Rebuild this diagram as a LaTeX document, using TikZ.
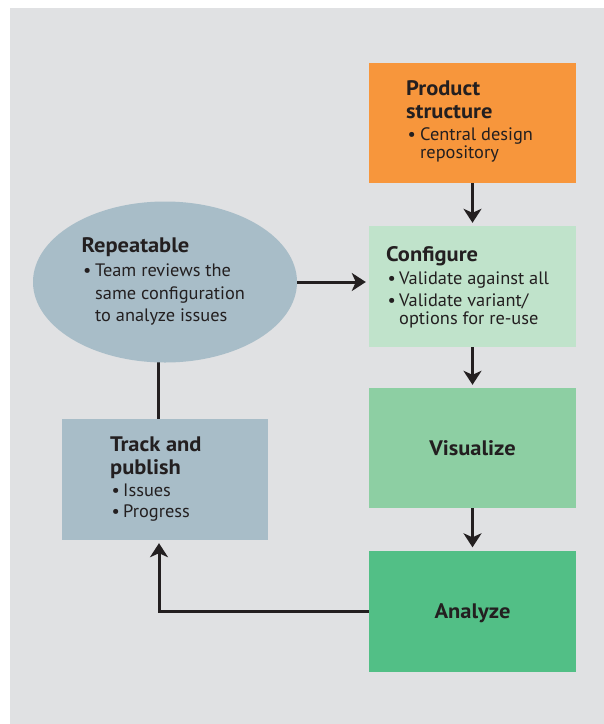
\documentclass[tikz,border=0pt]{standalone}
\usepackage{fontspec}
\setmainfont{PT Sans}[FakeStretch=1.02, BoldFeatures={FakeStretch=1.07}]
\usetikzlibrary{arrows.meta,shapes.geometric}
\definecolor{bggray}{HTML}{E0E1E3}
\definecolor{orangebox}{HTML}{F7963C}
\definecolor{confgreen}{HTML}{C0E3CB}
\definecolor{visgreen}{HTML}{8DCFA3}
\definecolor{anagreen}{HTML}{52BF86}
\definecolor{bluegray}{HTML}{A8BDC8}
\definecolor{ink}{HTML}{231F20}
\newcommand{\bodyline}[4]{\node[bodytxt] (#1) at (#2,#3) {#4};}
\newcommand{\headline}[4]{\node[headtxt] (#1) at (#2,#3) {#4};}
\begin{document}
\begin{tikzpicture}[x=1pt,y=-1pt,
  boxshape/.style={rectangle, draw=none, inner sep=0pt, minimum width=207pt, minimum height=120pt},
  bodytxt/.style={anchor=base west, inner sep=0pt, text=ink, font=\fontsize{18}{20}\selectfont},
  headtxt/.style={anchor=base west, inner sep=0pt, text=ink, font=\fontsize{21}{23}\selectfont\bfseries},
  centertxt/.style={anchor=base, inner sep=0pt, text=ink, font=\fontsize{21}{23}\selectfont\bfseries},
  conn/.style={line width=3pt, draw=ink},
  arr/.style={conn, -{Stealth[length=14pt,width=18pt,inset=4pt]}, shorten >=3pt}]
\useasboundingbox (0,0) rectangle (604,724);
\fill[white] (0,0) rectangle (604,724);
\fill[bggray] (10,8) rectangle (604,724);

% shapes
\node[boxshape, fill=orangebox] (prod) at (472.5,123) {};
\node[boxshape, fill=confgreen, minimum height=121pt] (conf) at (472.5,286.5) {};
\node[boxshape, fill=visgreen] (vis) at (472.5,448) {};
\node[boxshape, fill=anagreen, minimum height=121pt] (ana) at (472.5,611) {};
\node[boxshape, fill=bluegray, minimum width=206pt, minimum height=121pt] (trk) at (165,479.5) {};

% connector under ellipse
\draw[conn] ([xshift=-6.5pt]trk.north) -- ([xshift=-6.5pt]trk.north |- 0,300);

\node[ellipse, fill=bluegray, draw=none, inner sep=0pt, minimum width=264pt, minimum height=161pt] (ell) at (165,282) {};

% connectors
\draw[arr] (prod.south) -- (conf.north);
\draw[arr] (conf.south) -- (vis.north);
\draw[arr] (vis.south) -- (ana.north);
\draw[arr] (ell.east) -- (conf.west |- ell.east);
\draw[arr] (ana.west) -| ([xshift=-6pt]trk.south);

% texts: product
\headline{p1}{406}{95.7}{Product}
\headline{p2}{406}{118.3}{structure}
\bodyline{pb}{407.5}{140}{•}
\bodyline{p3}{420}{140}{Central design}
\bodyline{p4}{420}{158.3}{repository}

% configure
\headline{c1}{386}{261}{Configure}
\bodyline{cb1}{387.5}{284}{•}
\bodyline{c2}{399}{284}{Validate against all}
\bodyline{cb2}{387.5}{306.3}{•}
\bodyline{c3}{399}{306.3}{Validate variant/}
\bodyline{c4}{399}{324}{options for re-use}

% repeatable
\headline{r1}{81.5}{252}{Repeatable}
\bodyline{rb}{83}{276.7}{•}
\bodyline{r2}{95}{276.7}{Team reviews the}
\bodyline{r3}{95}{299}{same configuration}
\bodyline{r4}{95}{321}{to analyze issues}

% track
\headline{t1}{110}{451.5}{Track and}
\headline{t2}{110}{474}{publish}
\bodyline{tb1}{111.5}{496}{•}
\bodyline{t3}{123}{496}{Issues}
\bodyline{tb2}{111.5}{517.5}{•}
\bodyline{t4}{123}{517.5}{Progress}

% centered
\node[centertxt] (v1) at (472.5,455) {Visualize};
\node[centertxt] (a1) at (472.5,618) {Analyze};
\end{tikzpicture}
\end{document}
